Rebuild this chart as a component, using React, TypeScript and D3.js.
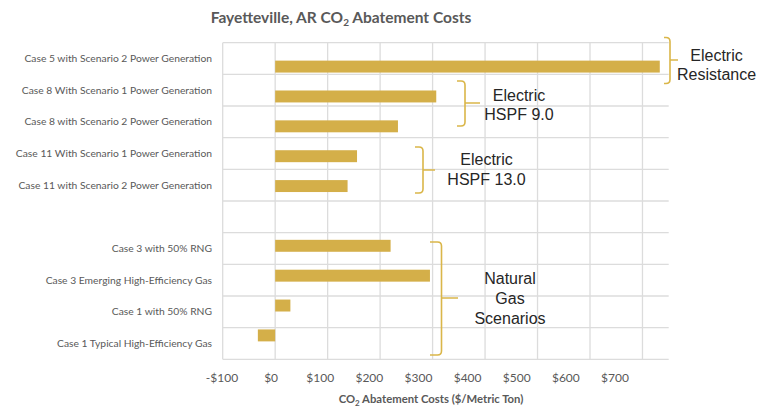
import React from "react";
import * as d3 from "d3";

const categories = [
  "Case 5 with Scenario 2 Power Generation",
  "Case 8 With Scenario 1 Power Generation",
  "Case 8 with Scenario 2 Power Generation",
  "Case 11 With Scenario 1 Power Generation",
  "Case 11 with Scenario 2 Power Generation",
  "",
  "Case 3 with 50% RNG",
  "Case 3 Emerging High-Efficiency Gas",
  "Case 1 with 50% RNG",
  "Case 1 Typical High-Efficiency Gas",
];
const values: (number | null)[] = [733, 307, 234, 156, 138, null, 220, 295, 29, -33];
const tickValues = [-100, 0, 100, 200, 300, 400, 500, 600, 700];
const tickLabels = ["-$100", "$0", "$100", "$200", "$300", "$400", "$500", "$600", "$700"];

type Bracket = { xl: number; xv: number; xt: number; yt: number; ym: number; yb: number; lines: string[]; tx: number; ty: number[] };
const brackets: Bracket[] = [
  { xl: 664, xv: 670, xt: 678, yt: 37.5, ym: 60, yb: 83.5, lines: ["Electric", "Resistance"], tx: 716.5, ty: [60.5, 80] },
  { xl: 457, xv: 465, xt: 480, yt: 81, ym: 103, yb: 126, lines: ["Electric", "HSPF 9.0"], tx: 519, ty: [100.5, 120] },
  { xl: 415, xv: 423, xt: 435, yt: 147, ym: 170, yb: 193, lines: ["Electric", "HSPF 13.0"], tx: 486.5, ty: [165, 185] },
  { xl: 430, xv: 441.5, xt: 458, yt: 242, ym: 298, yb: 355, lines: ["Natural", "Gas", "Scenarios"], tx: 510, ty: [284, 304, 323.5] },
];

const W = 757, H = 407;
const plotL = 222.7, plotR = 668.7, plotT = 42.7, plotB = 359.3;

export default function App() {
  const x = d3.scaleLinear().domain([-100, 750]).range([plotL, plotR]);
  const xLab = d3.scaleLinear().domain([-100, 700]).range([222, 615]);
  const yRows = d3.scaleBand<number>().domain(d3.range(categories.length)).range([plotT, plotB]).paddingInner(0).paddingOuter(0);
  const y = d3.scaleBand<number>().domain(d3.range(categories.length)).range([plotT, plotB]).padding(0.6);
  const rowLines = d3.range(categories.length + 1).map((i) => plotT + i * yRows.step());
  const barColor = "#d4af49";
  const brColor = "#dab649";
  const gray = "#595959";

  const bracketPath = (b: Bracket) => {
    const r = 4;
    return `M${b.xl},${b.yt} L${b.xv - r},${b.yt} Q${b.xv},${b.yt} ${b.xv},${b.yt + r} L${b.xv},${b.yb - r} Q${b.xv},${b.yb} ${b.xv - r},${b.yb} L${b.xl},${b.yb} M${b.xv},${b.ym} L${b.xt},${b.ym}`;
  };

  return (
    <svg width={W} height={H} style={{ position: "absolute", left: 0, top: 0, background: "#fff" }}>
      <rect x={0} y={0} width={W} height={H} fill="#fff" />
      <text x={341} y={23} textAnchor="middle" fontFamily="Lato" fontWeight="bold" fontSize={15.5} fill={gray}>
        Fayetteville, AR CO<tspan fontSize={10} dy={3}>2</tspan><tspan dy={-3}> Abatement Costs</tspan>
      </text>
      {/* gridlines */}
      {rowLines.map((yy, i) => (
        <line key={"h" + i} x1={plotL} x2={plotR} y1={yy} y2={yy} stroke="#dcdcdc" strokeWidth={1.3} />
      ))}
      {tickValues.map((t) => (
        <line key={"v" + t} x1={x(t)} x2={x(t)} y1={plotT} y2={plotB} stroke="#dcdcdc" strokeWidth={1.3} />
      ))}
      {/* bars */}
      {values.map((v, i) =>
        v === null ? null : (
          <rect key={"b" + i} x={Math.min(x(0), x(v))} width={Math.abs(x(v) - x(0))} y={y(i)!} height={y.bandwidth()} fill={barColor} />
        )
      )}
      {/* category labels */}
      {categories.map((c, i) => (
        <text key={"c" + i} x={212} y={yRows(i)! + yRows.bandwidth() / 2 + 3.5} textAnchor="end" fontFamily="Lato" fontSize={10.3} fill={gray}>
          {c}
        </text>
      ))}
      {/* tick labels */}
      {tickValues.map((t, i) => (
        <text key={"t" + t} x={xLab(t)} y={381.5} textAnchor="middle" fontFamily="Lato" fontSize={12} fill={gray}>
          {tickLabels[i]}
        </text>
      ))}
      <text x={431} y={403} textAnchor="middle" fontFamily="Lato" fontWeight="bold" fontSize={11.3} fill={gray}>
        CO<tspan fontSize={8} dy={2.5}>2</tspan><tspan dy={-2.5}> Abatement Costs ($/Metric Ton)</tspan>
      </text>
      {/* brackets */}
      {brackets.map((b, i) => (
        <g key={"br" + i}>
          <path d={bracketPath(b)} fill="none" stroke={brColor} strokeWidth={1.6} />
          {b.lines.map((l, j) => (
            <text key={j} x={b.tx} y={b.ty[j]} textAnchor="middle" fontFamily="Liberation Sans, Arial" fontSize={16} fill="#262626">
              {l}
            </text>
          ))}
        </g>
      ))}
    </svg>
  );
}
